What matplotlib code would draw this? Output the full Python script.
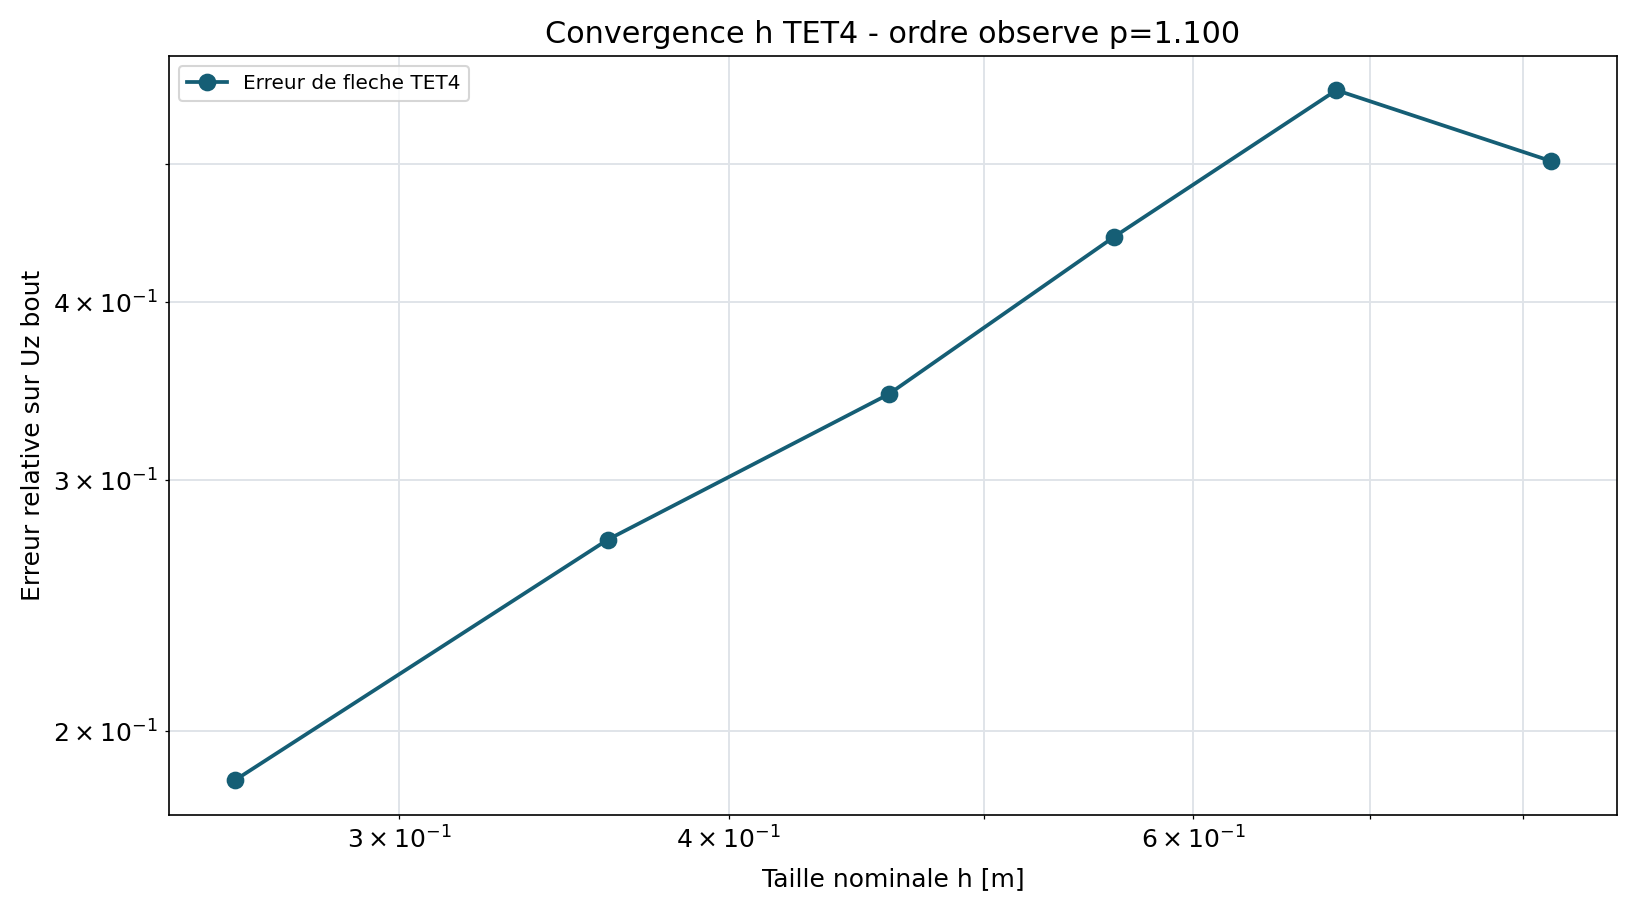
import matplotlib
matplotlib.use("Agg")
import matplotlib.pyplot as plt

h = [0.26, 0.36, 0.46, 0.56, 0.68, 0.82]
err = [0.1848, 0.2726, 0.3448, 0.4446, 0.5636, 0.5026]
label = "Erreur de fleche TET4"
title = "Convergence h TET4 - ordre observe p=1.100"
xlabel = "Taille nominale h [m]"
ylabel = "Erreur relative sur Uz bout"

fig, ax = plt.subplots(figsize=(10.9, 908/150), dpi=150)
fig.subplots_adjust(left=0.1035, right=0.9888, top=0.9387, bottom=0.1028)
ax.loglog(h, err, marker="o", color="#155e75", linewidth=1.8, markersize=7.5, label=label)
ax.grid(True, which="both", color="#dfe3e8", linewidth=0.9)
ax.set_title(title, fontsize=14.5)
ax.set_xlabel(xlabel, fontsize=12, labelpad=6.5)
ax.set_ylabel(ylabel, fontsize=12)
ax.tick_params(which="both", labelsize=12)
ax.legend(loc="upper left", fontsize=9.6)
fig.savefig("out.png", dpi=150)
